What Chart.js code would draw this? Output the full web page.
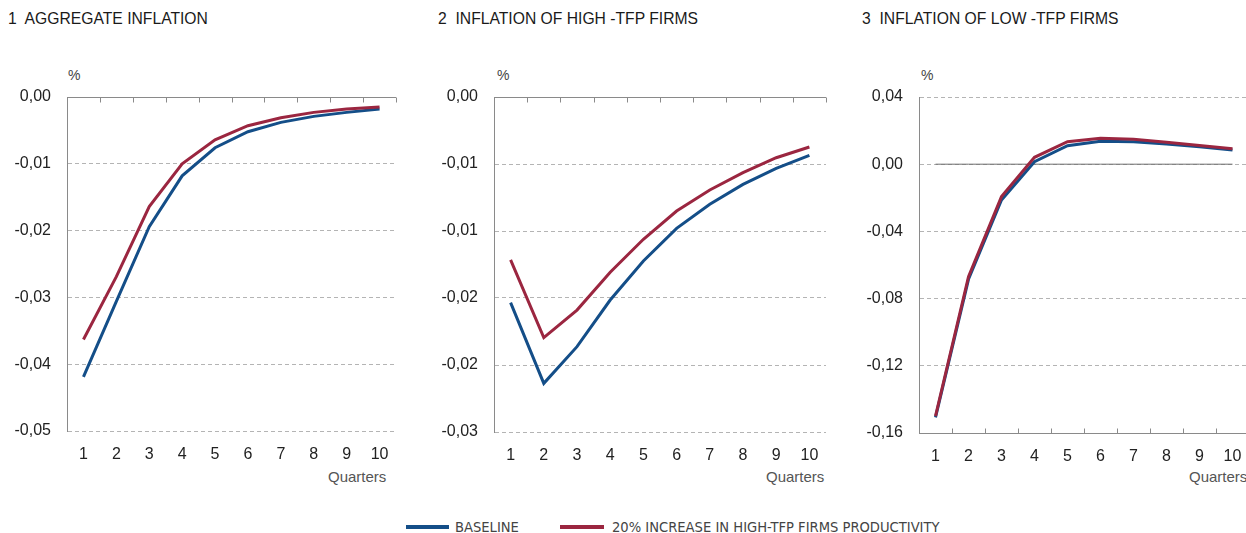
<!DOCTYPE html>
<html>
<head>
<meta charset="utf-8">
<script src="https://cdn.jsdelivr.net/npm/chart.js@4.4.1/dist/chart.umd.min.js"></script>
<style>
  html, body { margin: 0; padding: 0; background: #fff; overflow: hidden; }
  body { width: 1246px; height: 533px; position: relative; font-family: "Liberation Sans", Arial, sans-serif; }
  .title { position: absolute; top: 10px; font-size: 15.7px; color: #1a1a1a; white-space: pre; }
  .unit { position: absolute; top: 67px; font-size: 14px; color: #444; }
  .qtr { position: absolute; top: 468px; font-size: 15px; color: #555; }
  canvas { position: absolute; top: 80px; }
  .leg { position: absolute; top: 518px; font-family: "Liberation Sans Narrow", "DejaVu Sans Condensed", sans-serif; font-size: 14.6px; color: #444; white-space: nowrap; }
  .swatch { position: absolute; top: 525px; height: 4px; }
</style>
</head>
<body>
<div class="title" style="left:8px">1  AGGREGATE INFLATION</div>
<div class="title" style="left:438px">2  INFLATION OF HIGH -TFP FIRMS</div>
<div class="title" style="left:862px">3  INFLATION OF LOW -TFP FIRMS</div>
<div class="unit" style="left:68px">%</div>
<div class="unit" style="left:497px">%</div>
<div class="unit" style="left:921px">%</div>
<div class="qtr" style="left:328px">Quarters</div>
<div class="qtr" style="left:766px">Quarters</div>
<div class="qtr" style="left:1189px">Quarters</div>

<canvas id="c1" width="400" height="400" style="left:0px"></canvas>
<canvas id="c2" width="400" height="400" style="left:430px"></canvas>
<canvas id="c3" width="400" height="400" style="left:850px"></canvas>

<div class="swatch" style="left:406px;width:43px;background:#144e88"></div>
<div class="leg" style="left:455px">BASELINE</div>
<div class="swatch" style="left:560px;width:44px;background:#9b2640"></div>
<div class="leg" style="left:612px">20% INCREASE IN HIGH-TFP FIRMS PRODUCTIVITY</div>

<script>
const quarters = ['1', '2', '3', '4', '5', '6', '7', '8', '9', '10'];

// 1 aggregate inflation
const aggBaseline = [-0.0419, -0.0306, -0.0194, -0.0118, -0.0076, -0.0052, -0.0038, -0.0029, -0.0023, -0.0018];
const aggHighTfp  = [-0.0363, -0.0269, -0.0164, -0.0100, -0.0064, -0.0043, -0.0031, -0.0023, -0.0018, -0.0015];
const aggTicks = ['0,00', '-0,01', '-0,02', '-0,03', '-0,04', '-0,05'];

// 2 inflation of high-TFP firms
const highBaseline = [-0.01535, -0.02137, -0.01863, -0.01515, -0.01224, -0.0098, -0.0080, -0.00652, -0.00532, -0.00435];
const highHighTfp  = [-0.01216, -0.01796, -0.0159, -0.01308, -0.01062, -0.00851, -0.00694, -0.00565, -0.00453, -0.00373];
const highTicks = ['0,00', '-0,01', '-0,01', '-0,02', '-0,02', '-0,03'];

// 3 inflation of low-TFP firms
const lowBaseline = [-0.1507, -0.0685, -0.0213, 0.0015, 0.0110, 0.0136, 0.0134, 0.0120, 0.0104, 0.0085];
const lowHighTfp  = [-0.1500, -0.0670, -0.0193, 0.0041, 0.0134, 0.0154, 0.0148, 0.0130, 0.0112, 0.0092];
const lowZero     = [0, 0, 0, 0, 0, 0, 0, 0, 0, 0];
const lowTicks = ['0,04', '0,00', '-0,04', '-0,08', '-0,12', '-0,16'];

const BLUE = '#144e88';
const RED = '#9b2640';
const GRID = '#b4b4b4';
const AXIS = '#8a8a8a';

// solid axis line with small inward ticks at the category boundaries
const axisLine = {
  id: 'axisLine',
  afterDatasetsDraw(chart, args, opts) {
    const x = chart.scales.x, y = chart.scales.y, ctx = chart.ctx;
    const area = chart.chartArea;
    const py = Math.round(y.getPixelForValue(opts.value)) + 0.5;
    const step = x.getPixelForValue(1) - x.getPixelForValue(0);
    ctx.save();
    ctx.strokeStyle = AXIS;
    ctx.lineWidth = 1;
    ctx.beginPath();
    ctx.moveTo(area.left, py);
    ctx.lineTo(area.right, py);
    for (let i = 0; i < quarters.length; i++) {
      const px = Math.round(x.getPixelForValue(i) + step / 2) + 0.5;
      ctx.moveTo(px, py);
      ctx.lineTo(px, py + opts.dir * 5);
    }
    ctx.stroke();
    ctx.restore();
  }
};

function makeChart(id, cfg) {
  const datasets = [
    { label: 'BASELINE', data: cfg.base, borderColor: BLUE, order: 1 },
    { label: '20% INCREASE IN HIGH-TFP FIRMS PRODUCTIVITY', data: cfg.high, borderColor: RED, order: 0 }
  ];
  if (cfg.zero) {
    datasets.push({ label: 'zero', data: cfg.zero, borderColor: '#6e6e6e', borderWidth: 1, order: 2 });
  }
  return new Chart(document.getElementById(id), {
    type: 'line',
    data: { labels: quarters, datasets: datasets },
    options: {
      responsive: false,
      animation: false,
      layout: { padding: { top: 17, right: cfg.padRight, left: 0, bottom: 0 } },
      elements: {
        line: { borderWidth: 3, tension: 0, borderJoinStyle: 'miter' },
        point: { radius: 0 }
      },
      plugins: {
        legend: { display: false },
        tooltip: { enabled: false },
        axisLine: { value: cfg.axisValue, dir: cfg.axisDir }
      },
      scales: {
        x: {
          offset: true,
          grid: { display: false, drawTicks: false },
          border: { display: false },
          ticks: { color: '#222', font: { size: 16, family: 'Liberation Sans' }, padding: 14, maxRotation: 0 },
          afterFit(s) { s.height = cfg.xHeight; s.paddingLeft = 0; s.paddingRight = 0; }
        },
        y: {
          min: cfg.min, max: cfg.max,
          grid: { color: GRID, lineWidth: 1, drawTicks: false },
          border: { display: true, color: AXIS, width: 1, dash: [4, 3] },
          ticks: {
            stepSize: cfg.step,
            color: '#222',
            font: { size: 16, family: 'Liberation Sans' },
            padding: 16,
            callback: (v, i, t) => cfg.labels[t.length - 1 - i]
          },
          afterFit(s) { s.width = cfg.yWidth; s.paddingTop = 0; s.paddingBottom = 0; }
        }
      }
    },
    plugins: [axisLine]
  });
}

makeChart('c1', { base: aggBaseline, high: aggHighTfp, labels: aggTicks, min: -0.05, max: 0, step: 0.01,
  yWidth: 67, xHeight: 49, padRight: 4, axisValue: 0, axisDir: 1 });
makeChart('c2', { base: highBaseline, high: highHighTfp, labels: highTicks, min: -0.025, max: 0, step: 0.005,
  yWidth: 64, xHeight: 48, padRight: 4, axisValue: 0, axisDir: 1 });
makeChart('c3', { base: lowBaseline, high: lowHighTfp, zero: lowZero, labels: lowTicks, min: -0.16, max: 0.04, step: 0.04,
  yWidth: 69, xHeight: 47, padRight: 1, axisValue: -0.16, axisDir: -1 });
</script>
</body>
</html>
